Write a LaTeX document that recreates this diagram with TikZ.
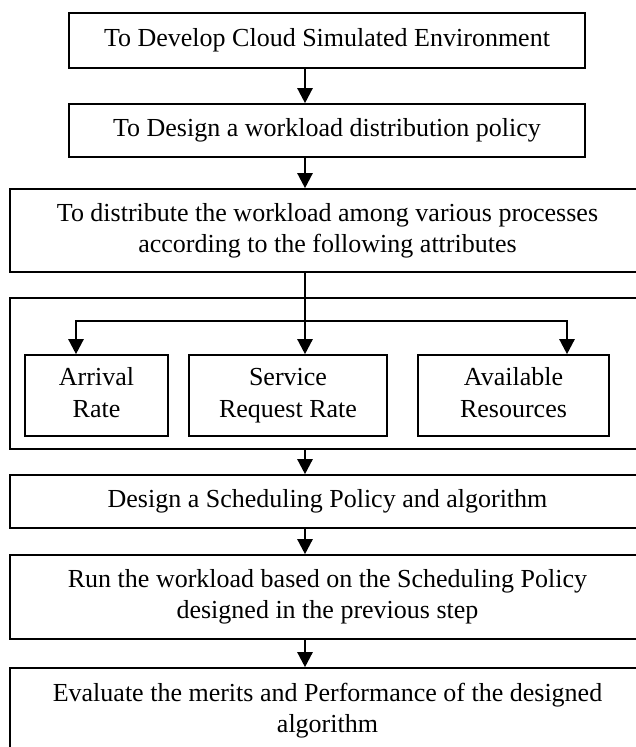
\documentclass[tikz,border=0pt]{standalone}
\usepackage{fontspec}
\setmainfont{Liberation Serif}
\usetikzlibrary{arrows.meta}
\tikzset{
  stepbox/.style={draw, line width=0.8pt, align=center, inner sep=0pt,
    font=\fontsize{13}{15.5}\selectfont},
  flow/.style={line width=1.2pt, -{Triangle[length=7.5pt, width=7.5pt]}}
}
\begin{document}
\begin{tikzpicture}[x=0.5pt, y=-0.5pt]
\useasboundingbox (0,0) rectangle (635,747);

\node[stepbox, minimum width=258pt, minimum height=27.5pt] (env) at (327,40.5) {To Develop Cloud Simulated Environment};
\node[stepbox, minimum width=258pt, minimum height=26.5pt] (policy) at (327,130.5) {To Design a workload distribution policy};
\node[stepbox, minimum width=317.5pt, minimum height=41.5pt] (distrib) at (327.5,230.5) {To distribute the workload among various processes\\according to the following attributes};

\node[stepbox, minimum width=317.5pt, minimum height=75.5pt] (attrs) at (327.5,373.5) {};
\node[stepbox, minimum width=71.5pt, minimum height=40.5pt] (arrival) at (96.5,395.5) {Arrival\strut\\[0.5pt]Rate\strut};
\node[stepbox, minimum width=99pt, minimum height=40.5pt] (service) at (288,395.5) {Service\strut\\[0.5pt]Request Rate\strut};
\node[stepbox, minimum width=95.5pt, minimum height=40.5pt] (avail) at (513.5,395.5) {Available\strut\\[0.5pt]Resources\strut};

\node[stepbox, minimum width=317.5pt, minimum height=26.5pt] (sched) at (327.5,501.5) {Design a Scheduling Policy and algorithm};
\node[stepbox, minimum width=317.5pt, minimum height=42pt] (run) at (327.5,597) {Run the workload based on the Scheduling Policy\\designed in the previous step};
\node[stepbox, minimum width=317.5pt, minimum height=43pt] (eval) at (327.5,711) {Evaluate the merits and Performance of the designed\\algorithm};

\coordinate (spine) at (305,0);
\coordinate (fork) at (305,321);

\draw[flow] (env.south -| spine) -- (policy.north -| spine);
\draw[flow] (policy.south -| spine) -- (distrib.north -| spine);
\draw[flow] (distrib.south -| spine) -- (service.north -| spine);
\draw[flow] (fork) -| (arrival.north -| 76,0);
\draw[flow] (fork) -| (avail.north -| 567,0);
\draw[flow] (attrs.south -| spine) -- (sched.north -| spine);
\draw[flow] (sched.south -| spine) -- (run.north -| spine);
\draw[flow] (run.south -| spine) -- (eval.north -| spine);
\end{tikzpicture}
\end{document}
